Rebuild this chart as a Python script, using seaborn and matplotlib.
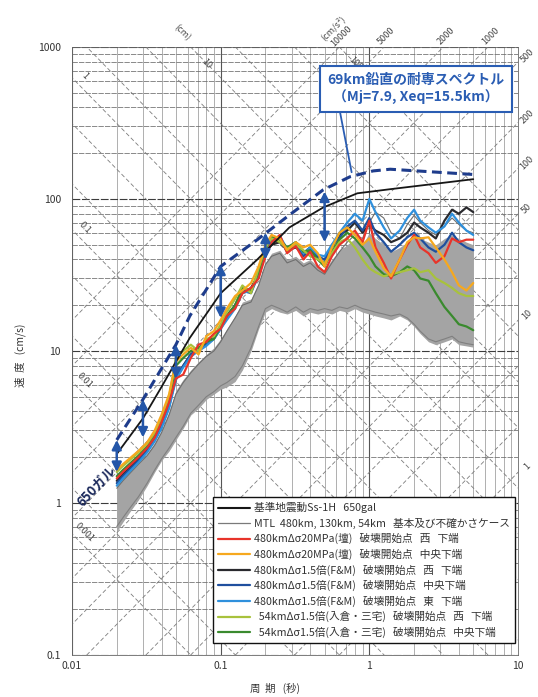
import matplotlib
matplotlib.use("Agg")
import matplotlib.pyplot as plt
from matplotlib.lines import Line2D
import numpy as np
import pandas as pd
import seaborn as sns

# ---------------- data ----------------
periods = [0.02, 0.022, 0.025, 0.028, 0.032, 0.036, 0.04, 0.045, 0.05, 0.056,
           0.063, 0.071, 0.08, 0.09, 0.1, 0.11, 0.125, 0.14, 0.16, 0.18,
           0.2, 0.22, 0.25, 0.28, 0.32, 0.36, 0.4, 0.45, 0.5, 0.56,
           0.63, 0.71, 0.8, 0.9, 1.0, 1.1, 1.25, 1.4, 1.6, 1.8,
           2.0, 2.2, 2.5, 2.8, 3.2, 3.6, 4.0, 4.5, 5.0]

red_V = [1.45, 1.6, 1.8, 2.0, 2.3, 2.7, 3.4, 4.6, 6.6, 7.0, 9.0, 11.0, 11.5, 13.0, 14.0,
         17.0, 19.0, 24.0, 26.0, 30.0, 42.0, 52.0, 58.0, 44.0, 49.0, 40.0, 45.0, 36.0,
         33.0, 42.0, 50.0, 55.0, 62.0, 52.0, 72.0, 48.0, 38.0, 30.0, 40.0, 50.0, 58.0,
         48.0, 44.0, 38.0, 42.0, 55.0, 52.0, 54.0, 54.0]
orange_V = [1.65, 1.8, 2.0, 2.2, 2.5, 3.0, 3.8, 5.2, 8.5, 9.5, 10.5, 9.5, 12.5, 13.5, 16.0,
            19.0, 23.0, 25.0, 28.0, 36.0, 50.0, 58.0, 55.0, 46.0, 52.0, 48.0, 50.0, 44.0,
            36.0, 48.0, 60.0, 65.0, 58.0, 50.0, 55.0, 45.0, 35.0, 31.0, 40.0, 52.0, 56.0,
            55.0, 56.0, 48.0, 40.0, 33.0, 27.0, 25.0, 28.0]
ygreen_V = [1.6, 1.75, 1.95, 2.15, 2.45, 2.9, 3.6, 5.0, 9.0, 10.0, 11.0, 10.0, 12.0, 12.5,
            15.0, 18.0, 22.0, 27.0, 24.0, 35.0, 48.0, 55.0, 52.0, 47.0, 50.0, 46.0, 42.0,
            40.0, 38.0, 44.0, 52.0, 55.0, 48.0, 40.0, 35.0, 33.0, 31.0, 32.0, 33.0, 34.0,
            35.0, 33.0, 34.0, 30.0, 28.0, 26.0, 24.0, 23.0, 23.0]
green_V = [1.5, 1.65, 1.85, 2.05, 2.35, 2.8, 3.5, 4.8, 8.0, 9.0, 10.0, 10.5, 11.5, 12.0,
           14.5, 17.0, 20.0, 26.0, 25.0, 33.0, 47.0, 56.0, 54.0, 48.0, 52.0, 45.0, 46.0,
           40.0, 36.0, 45.0, 54.0, 60.0, 55.0, 48.0, 42.0, 36.0, 32.0, 31.0, 33.0, 36.0,
           34.0, 30.0, 29.0, 24.0, 19.5, 17.0, 15.0, 14.5, 13.7]
fmw_V = [1.4, 1.55, 1.75, 1.95, 2.25, 2.7, 3.3, 4.5, 6.5, 8.0, 9.5, 10.0, 11.5, 12.5, 14.5,
         17.0, 20.0, 24.0, 26.0, 32.0, 44.0, 50.0, 52.0, 46.0, 48.0, 44.0, 48.0, 40.0,
         38.0, 48.0, 58.0, 62.0, 70.0, 60.0, 68.0, 62.0, 58.0, 52.0, 55.0, 60.0, 70.0,
         65.0, 60.0, 55.0, 72.0, 85.0, 80.0, 88.0, 82.0]
fmc_V = [1.35, 1.5, 1.7, 1.9, 2.2, 2.6, 3.2, 4.3, 6.8, 8.0, 9.5, 10.5, 11.0, 12.0, 14.0,
         16.5, 20.0, 25.0, 24.0, 32.0, 45.0, 52.0, 55.0, 45.0, 50.0, 42.0, 46.0, 42.0,
         40.0, 50.0, 55.0, 66.0, 72.0, 62.0, 75.0, 60.0, 52.0, 45.0, 50.0, 56.0, 60.0,
         55.0, 48.0, 45.0, 50.0, 60.0, 52.0, 48.0, 46.0]
fme_V = [1.3, 1.45, 1.65, 1.85, 2.15, 2.55, 3.1, 4.2, 6.5, 7.8, 9.2, 10.0, 10.8, 12.0, 14.0,
         16.0, 19.0, 24.0, 25.0, 31.0, 44.0, 53.0, 57.0, 47.0, 52.0, 44.0, 48.0, 43.0,
         42.0, 50.0, 60.0, 70.0, 80.0, 72.0, 100.0, 82.0, 65.0, 55.0, 62.0, 75.0, 85.0,
         72.0, 65.0, 60.0, 66.0, 80.0, 70.0, 62.0, 58.0]

gray_low = [0.65, 0.75, 0.9, 1.05, 1.3, 1.6, 1.9, 2.2, 2.6, 3.1, 3.8, 4.2, 4.8, 5.2, 5.6,
            5.8, 6.3, 7.5, 10.0, 14.0, 18.0, 19.0, 18.0, 17.5, 18.5, 17.0, 18.0, 17.5,
            18.0, 17.5, 18.5, 18.0, 19.0, 18.0, 17.5, 17.0, 16.5, 16.0, 17.0, 16.0, 14.5,
            13.0, 11.5, 11.0, 11.5, 12.0, 11.0, 10.8, 10.6]
gray_high = [1.3, 1.45, 1.65, 1.85, 2.1, 2.5, 3.0, 4.0, 5.5, 6.5, 7.5, 8.5, 9.5, 10.5, 12.0,
             14.0, 17.0, 21.0, 22.0, 28.0, 38.0, 44.0, 46.0, 40.0, 42.0, 38.0, 40.0, 36.0,
             34.0, 40.0, 46.0, 50.0, 55.0, 50.0, 60.0, 55.0, 50.0, 45.0, 48.0, 52.0, 60.0,
             55.0, 52.0, 50.0, 55.0, 58.0, 55.0, 52.0, 50.0]
gray_a = [1.25, 1.4, 1.6, 1.8, 2.05, 2.4, 2.9, 3.8, 5.2, 6.2, 7.2, 8.2, 9.2, 10.0, 11.5,
          13.5, 16.5, 20.0, 21.0, 27.0, 37.0, 42.0, 44.0, 38.0, 40.0, 36.0, 38.0, 34.0,
          32.0, 38.0, 45.0, 52.0, 58.0, 55.0, 70.0, 82.0, 75.0, 60.0, 55.0, 68.0, 78.0,
          70.0, 62.0, 58.0, 66.0, 75.0, 68.0, 62.0, 60.0]
gray_b = [0.7, 0.8, 0.95, 1.1, 1.35, 1.65, 1.95, 2.3, 2.7, 3.2, 3.9, 4.4, 5.0, 5.4, 5.9,
          6.2, 6.8, 8.0, 10.5, 14.5, 19.0, 20.0, 19.0, 18.0, 19.5, 18.0, 19.0, 18.5,
          19.0, 18.5, 19.5, 19.0, 20.0, 19.0, 18.5, 18.0, 17.5, 17.0, 17.5, 16.5, 15.0,
          13.5, 12.0, 11.5, 12.0, 12.5, 11.5, 11.2, 11.0]

ss_T = [0.02, 0.03, 0.04, 0.05, 0.062, 0.1, 0.175, 0.29, 0.49, 0.83, 1.38, 5.0]
ss_V = [2.1, 3.6, 5.8, 8.5, 12.2, 24.0, 39.7, 65.0, 88.0, 109.0, 116.0, 135.0]

dash_T = [0.02, 0.03, 0.05, 0.062, 0.1, 0.175, 0.29, 0.49, 0.74, 1.06, 1.38, 5.0]
dash_V = [2.6, 4.8, 11.0, 17.0, 36.0, 53.7, 78.5, 115.0, 140.0, 153.0, 157.0, 145.0]

arrow_T = [0.02, 0.03, 0.05, 0.1, 0.2, 0.5]
arrow_top = [2.6, 4.8, 11.0, 37.0, 60.0, 112.0]
arrow_bottom = [1.6, 2.7, 6.6, 16.5, 40.0, 52.0]

accel_lines = [1, 2, 5, 10, 20, 50, 100, 200, 500, 1000, 2000, 5000, 10000]
disp_lines = [0.001, 0.002, 0.005, 0.01, 0.02, 0.05, 0.1, 0.2, 0.5, 1, 2, 5, 10, 20, 50, 100]
accel_right_labels = [500, 200, 100, 50, 10, 1]
accel_top_labels = [10000, 5000, 2000, 1000]
disp_left_labels = [1, 0.1, 0.01, 0.001]
disp_top_labels = [10, 100]

x_ticks = [0.01, 0.1, 1, 10]
x_ticklabels = ["0.01", "0.1", "1", "10"]
y_ticks = [0.1, 1, 10, 100, 1000]
y_ticklabels = ["0.1", "1", "10", "100", "1000"]

legend_labels = [
    "基準地震動Ss-1H   650gal",
    "MTL  480km, 130km, 54km   基本及び不確かさケース",
    "480kmΔσ20MPa(壇)   破壊開始点   西   下端",
    "480kmΔσ20MPa(壇)   破壊開始点   中央下端",
    "480kmΔσ1.5倍(F&M)   破壊開始点   西   下端",
    "480kmΔσ1.5倍(F&M)   破壊開始点   中央下端",
    "480kmΔσ1.5倍(F&M)   破壊開始点   東   下端",
    "  54kmΔσ1.5倍(入倉・三宅)   破壊開始点   西   下端",
    "  54kmΔσ1.5倍(入倉・三宅)   破壊開始点   中央下端",
]

# ---------------- style ----------------
sns.set_style("white")
plt.rcParams['font.family'] = ['Noto Sans CJK JP', 'DejaVu Sans']

C_SS = "#161616"
C_GRAY = "#a4a4a4"
C_RED = "#e8342a"
C_ORANGE = "#f6a81e"
C_FMW = "#2a2a2e"
C_FMC = "#1f4f9e"
C_FME = "#2f90dc"
C_YG = "#a8c23c"
C_GREEN = "#3a8a2e"
C_DASH = "#1e3c8c"
C_ARROW = "#2456a8"
C_BOX = "#2a5db3"

fig = plt.figure(figsize=(5.38, 6.97), dpi=100)
ax = fig.add_axes([72 / 538, 42 / 697, 446 / 538, 608 / 697])
ax.set_xscale("log")
ax.set_yscale("log")
ax.set_xlim(0.01, 10)
ax.set_ylim(0.1, 1000)

# grid
for dec in [0.01, 0.1, 1]:
    for m in range(1, 10):
        v = dec * m
        if v <= 10:
            ax.axvline(v, color="#555555" if m == 1 else "#9a9a9a",
                       lw=0.8 if m == 1 else 0.55, zorder=0)
for dec in [0.1, 1, 10, 100]:
    for m in range(1, 10):
        v = dec * m
        ax.axhline(v, color="#3c3c3c" if m == 1 else "#6a6a6a",
                   lw=0.8 if m == 1 else 0.55, ls=(0, (7, 1.5)), zorder=0)
ax.axhline(1000, color="#3c3c3c", lw=0.8, ls=(0, (7, 1.5)), zorder=0)

# tripartite diagonal lines
Tg = np.logspace(-2.2, 1.2, 60)
for A in accel_lines:
    ax.plot(Tg, A * Tg / (2 * np.pi), color="#7c7c7c", lw=0.6,
            ls=(0, (5, 3)), zorder=0.5)
for D in disp_lines:
    ax.plot(Tg, 2 * np.pi * D / Tg, color="#7c7c7c", lw=0.6,
            ls=(0, (5, 3)), zorder=0.5)

# MTL gray band
ax.fill_between(periods, gray_low, gray_high, color=C_GRAY, lw=0, zorder=1)
sns.lineplot(x=periods, y=gray_a, ax=ax, color="#6e6e6e", lw=0.8, zorder=1.2,
             estimator=None, sort=False)
sns.lineplot(x=periods, y=gray_b, ax=ax, color="#808080", lw=0.8, zorder=1.2,
             estimator=None, sort=False)

series = [
    (fmw_V, C_FMW), (fmc_V, C_FMC), (fme_V, C_FME), (green_V, C_GREEN),
    (ygreen_V, C_YG), (red_V, C_RED), (orange_V, C_ORANGE),
]
for vals, col in series:
    df = pd.DataFrame({"T": periods, "V": vals})
    sns.lineplot(data=df, x="T", y="V", ax=ax, color=col, lw=1.6, zorder=2,
                 estimator=None, sort=False)

sns.lineplot(x=ss_T, y=ss_V, ax=ax, color=C_SS, lw=1.3, zorder=3,
             estimator=None, sort=False)
sns.lineplot(x=dash_T, y=dash_V, ax=ax, color=C_DASH, lw=2.2, zorder=3,
             estimator=None, sort=False)
ax.get_lines()[-1].set_linestyle((0, (3.2, 1.8)))

for t, top, bot in zip(arrow_T, arrow_top, arrow_bottom):
    ax.annotate("", xy=(t, bot), xytext=(t, top),
                arrowprops=dict(arrowstyle="<|-|>,head_length=0.55,head_width=0.28",
                                color=C_ARROW, lw=1.8, shrinkA=0, shrinkB=0),
                zorder=4)

# ticks
ax.set_xticks(x_ticks)
ax.set_xticklabels(x_ticklabels)
ax.set_yticks(y_ticks)
ax.set_yticklabels(y_ticklabels)
ax.minorticks_off()
ax.tick_params(axis="both", length=0, labelsize=7.5, colors="#333333")
ax.tick_params(axis="y", pad=8)
ax.tick_params(axis="x", pad=4)
for sp in ax.spines.values():
    sp.set_color("#666666")
    sp.set_linewidth(0.6)
ax.set_xlabel("")
ax.set_ylabel("")

fig.text(275 / 538, 1 - 688 / 697, "周  期   (秒)", ha="center", va="center",
         fontsize=7.5, color="#333333")
fig.text(20 / 538, 1 - 355 / 697, "速  度   (cm/s)", ha="center", va="center",
         rotation=90, fontsize=7.5, color="#333333")

# diagonal labels
lab_kw = dict(fontsize=6.5, color="#444444", ha="center", va="center", clip_on=False)
for D in disp_left_labels:
    t = 0.0122
    ax.text(t, 2 * np.pi * D / t * 1.25, f"{D:g}", rotation=-45, **lab_kw)
for D in disp_top_labels:
    v = 780
    ax.text(2 * np.pi * D / v, v, f"{D:g}", rotation=-45, **lab_kw)
ax.text(0.055, 1250, "(cm)", rotation=-45, **lab_kw)
for A in accel_top_labels:
    v = 1180
    ax.text(2 * np.pi * v / A * 0.88, v, f"{A:g}", rotation=45, **lab_kw)
for A in accel_right_labels:
    t = 11.5
    ax.text(t, A * t / (2 * np.pi) * 0.95, f"{A:g}", rotation=45, **lab_kw)
ax.text(0.57, 1330, "(cm/s²)", rotation=45, **lab_kw)

ax.text(0.0147, 1.29, "650ガル", rotation=47, fontsize=9.5, fontweight="bold",
        color="#1c2a5c", ha="center", va="center")

# callout box + connector
ax.annotate("", xy=(0.76, 150), xycoords="data",
            xytext=(340 / 538, 1 - 112 / 697), textcoords="figure fraction",
            arrowprops=dict(arrowstyle="-", color=C_BOX, lw=1.3,
                            shrinkA=0, shrinkB=0), zorder=5)
ax.text(416 / 538, 1 - 89 / 697, "69km鉛直の耐専スペクトル\n（Mj=7.9, Xeq=15.5km）",
        transform=fig.transFigure, ha="center", va="center", fontsize=10,
        fontweight="bold", color=C_BOX, linespacing=1.2,
        bbox=dict(boxstyle="square,pad=0.55", fc="white", ec=C_BOX, lw=1.5),
        zorder=6)

# legend
handles = [
    Line2D([], [], color=C_SS, lw=1.5),
    Line2D([], [], color="#7a7a7a", lw=0.9),
    Line2D([], [], color=C_RED, lw=1.6),
    Line2D([], [], color=C_ORANGE, lw=1.6),
    Line2D([], [], color=C_FMW, lw=1.6),
    Line2D([], [], color=C_FMC, lw=1.6),
    Line2D([], [], color=C_FME, lw=1.6),
    Line2D([], [], color=C_YG, lw=1.6),
    Line2D([], [], color=C_GREEN, lw=1.6),
]
leg = ax.legend(handles, legend_labels, loc="lower right",
                bbox_to_anchor=(0.993, 0.02), borderaxespad=0,
                fontsize=7.7, handlelength=3.0, handletextpad=0.4,
                labelspacing=0.42, borderpad=0.45, frameon=True,
                fancybox=False, framealpha=1, edgecolor="#111111")
leg.get_frame().set_linewidth(1.0)
leg.set_zorder(7)
for txt in leg.get_texts():
    txt.set_color("#333333")

fig.savefig("out.png", dpi=100, facecolor="white")
